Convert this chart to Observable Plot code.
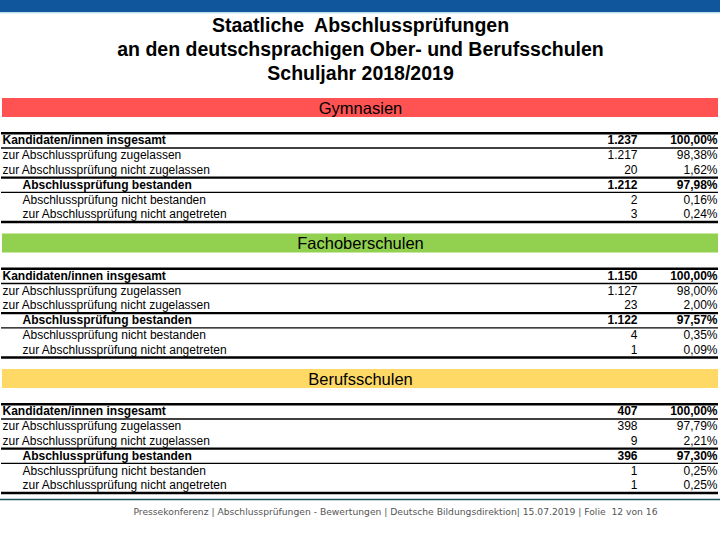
<!DOCTYPE html>
<html>
<head>
<meta charset="utf-8">
<script src="https://cdn.jsdelivr.net/npm/d3@7"></script>
<script src="https://cdn.jsdelivr.net/npm/@observablehq/plot@0.6"></script>
<style>
  html, body { margin: 0; padding: 0; background: #fff; }
  #chart svg { display: block; }
</style>
</head>
<body>
<div id="chart"></div>
<script>
// ---- data ----
const titleLines = ["Staatliche  Abschlussprüfungen", "an den deutschsprachigen Ober- und Berufsschulen", "Schuljahr 2018/2019"];
const sections = ["Gymnasien", "Fachoberschulen", "Berufsschulen"];
const rowLabels = [
  "Kandidaten/innen insgesamt",
  "zur Abschlussprüfung zugelassen",
  "zur Abschlussprüfung nicht zugelassen",
  "Abschlussprüfung bestanden",
  "Abschlussprüfung nicht bestanden",
  "zur Abschlussprüfung nicht angetreten"
];
const gymCounts = [1237, 1217, 20, 1212, 2, 3];
const gymPct = [100.00, 98.38, 1.62, 97.98, 0.16, 0.24];
const fosCounts = [1150, 1127, 23, 1122, 4, 1];
const fosPct = [100.00, 98.00, 2.00, 97.57, 0.35, 0.09];
const bsCounts = [407, 398, 9, 396, 1, 1];
const bsPct = [100.00, 97.79, 2.21, 97.30, 0.25, 0.25];
const footerText = "Pressekonferenz | Abschlussprüfungen - Bewertungen | Deutsche Bildungsdirektion| 15.07.2019 | Folie  12 von 16";

// ---- styles / layout ----
const sectionColors = ["#FF5252", "#92D050", "#FFD966"];
const boldRows = [true, false, false, true, false, false];
const indentRows = [false, false, false, true, true, true];
const W = 720, H = 540;
const secTop = s => 98 + s * 135.5;
const rowY = (s, i) => secTop(s) + 42 + i * 14.8;

const de = d3.formatLocale({decimal: ",", thousands: ".", grouping: [3], currency: ["", " €"]});
const fmtInt = de.format(",d");
const fmtPct = v => de.format(",.2f")(v) + "%";

const countsBySec = [gymCounts, fosCounts, bsCounts];
const pctBySec = [gymPct, fosPct, bsPct];

const rows = [];
sections.forEach((sec, s) => {
  rowLabels.forEach((lab, i) => {
    rows.push({s, i, label: lab, count: countsBySec[s][i], pct: pctBySec[s][i],
      y: rowY(s, i), bold: boldRows[i], indent: indentRows[i]});
  });
});
const boldData = rows.filter(d => d.bold);
const normData = rows.filter(d => !d.bold);
const bars = sections.map((name, s) => ({name, s, y1: secTop(s), y2: secTop(s) + 19, color: sectionColors[s]}));

// horizontal separators: [after row index, width]
const sepSpec = [[-1, 2.6], [0, 1.6], [2, 2.2], [3, 1.2], [5, 2.6]];
const seps = [];
sections.forEach((sec, s) => sepSpec.forEach(([k, w]) => seps.push({y: rowY(s, k) + 7.5, w})));

const font = "'Liberation Sans', Arial, sans-serif";
const textMarks = (data, weight) => [
  Plot.text(data, {x: d => d.indent ? 22 : 2, y: "y", text: "label", textAnchor: "start", fontSize: 12, fontWeight: weight, fill: "#000"}),
  Plot.text(data, {x: 637, y: "y", text: d => fmtInt(d.count), textAnchor: "end", fontSize: 12, fontWeight: weight, fill: "#000"}),
  Plot.text(data, {x: 717, y: "y", text: d => fmtPct(d.pct), textAnchor: "end", fontSize: 12, fontWeight: weight, fill: "#000"})
];

const chart = Plot.plot({
  width: W, height: H,
  margin: 0,
  x: {domain: [0, W], range: [0, W], axis: null},
  y: {domain: [0, H], range: [0, H], axis: null},
  style: {fontFamily: font, background: "#fff"},
  marks: [
    // top blue band
    Plot.rect([0], {x1: 0, x2: W, y1: 0, y2: 12, fill: "#0F569C"}),
    Plot.rect([0], {x1: 0, x2: W, y1: 12, y2: 13.5, fill: "#BFE3EE"}),
    // title
    Plot.text(titleLines, {x: W / 2, y: (d, i) => 25 + i * 24, text: d => d, fontSize: 19.5, fontWeight: "bold", fill: "#000", textAnchor: "middle"}),
    // section header bars
    Plot.rect(bars, {x1: 2, x2: 718, y1: "y1", y2: "y2", fill: "color"}),
    Plot.text(bars, {x: W / 2, y: d => d.y1 + 10, text: "name", fontSize: 16.5, fill: "#000", textAnchor: "middle"}),
    // separators
    Plot.ruleY(seps, {y: "y", x1: 1, x2: 718, stroke: "#000", strokeWidth: d => d.w}),
    // table text
    ...textMarks(normData, "normal"),
    ...textMarks(boldData, "bold"),
    // footer
    Plot.ruleY([499], {x1: 0, x2: W, stroke: "#1E4F57", strokeWidth: 1.5}),
    Plot.text([footerText], {x: 395, y: 512, text: d => d, fontSize: 9.2, fill: "#555", textAnchor: "middle", fontFamily: "'DejaVu Sans', Verdana, sans-serif"})
  ]
});
document.getElementById("chart").appendChild(chart);
</script>
</body>
</html>
